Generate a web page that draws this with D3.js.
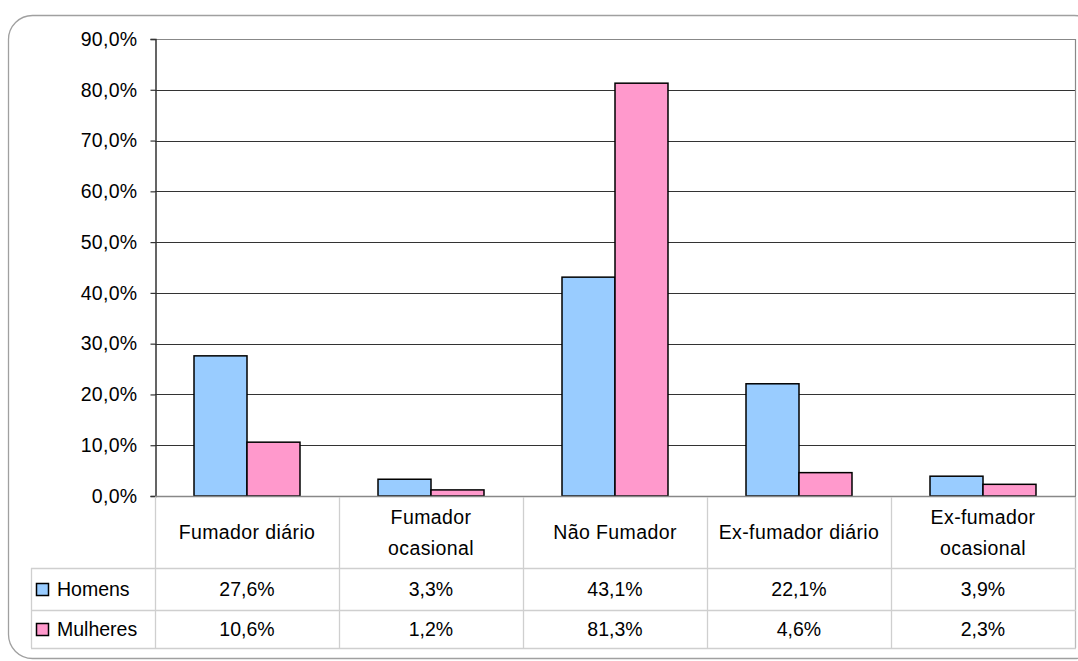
<!DOCTYPE html>
<html>
<head>
<meta charset="utf-8">
<script src="https://cdn.jsdelivr.net/npm/d3@7"></script>
<style>
  body { margin: 0; background: #fff; }
  text { font-family: "Liberation Sans", Arial, sans-serif; fill: #000; }
</style>
</head>
<body>
<div id="chart"></div>
<script>
// Data
const categories = [
  ['Fumador diário'],
  ['Fumador', 'ocasional'],
  ['Não Fumador'],
  ['Ex-fumador diário'],
  ['Ex-fumador', 'ocasional']
];
const seriesNames = ['Homens', 'Mulheres'];
const homens = [0.276, 0.033, 0.431, 0.221, 0.039];
const mulheres = [0.106, 0.012, 0.813, 0.046, 0.023];
const yTicks = [0, 0.1, 0.2, 0.3, 0.4, 0.5, 0.6, 0.7, 0.8, 0.9];
const colors = ['#99ccff', '#ff99cc'];

const width = 1078;
const height = 661;
const plot = { left: 155, right: 1075, top: 39, bottom: 496 };
const tableLeft = 31;
const rowCat = 568, rowH = 610, rowM = 648;
const fontSize = '19.5px';

const fmt = v => d3.format('.1f')(v * 100).replace('.', ',') + '%';

const svg = d3.select('#chart')
  .append('svg')
  .attr('width', width)
  .attr('height', height);

// Outer frame with rounded corners
svg.append('rect')
  .attr('x', 8.5).attr('y', 15.5)
  .attr('width', 1090).attr('height', 643)
  .attr('rx', 24).attr('ry', 24)
  .attr('fill', 'none')
  .attr('stroke', '#a0a0a0')
  .attr('stroke-width', 1.3);

// Scales
const keys = categories.map((c, i) => i);
const x = d3.scaleBand()
  .domain(keys)
  .range([plot.left, plot.right])
  .padding(0);

const x1 = d3.scaleBand()
  .domain(seriesNames)
  .range([0, x.bandwidth()])
  .paddingInner(0)
  .paddingOuter(0.736);

const y = d3.scaleLinear()
  .domain([0, 0.9])
  .range([plot.bottom, plot.top]);

// Gridlines
svg.append('g')
  .selectAll('line')
  .data(yTicks.slice(1))
  .join('line')
  .attr('x1', plot.left).attr('x2', plot.right)
  .attr('y1', d => Math.round(y(d)) + 0.5)
  .attr('y2', d => Math.round(y(d)) + 0.5)
  .attr('stroke', d => d === 0.9 ? '#888' : '#333')
  .attr('stroke-width', 1.2);

// Right border of plot area
svg.append('line')
  .attr('x1', plot.right + 0.5).attr('x2', plot.right + 0.5)
  .attr('y1', plot.top).attr('y2', plot.bottom)
  .attr('stroke', '#888').attr('stroke-width', 1.2);

// Y axis
const yAxis = svg.append('g')
  .attr('transform', `translate(${plot.left + 0.5},0)`)
  .call(d3.axisLeft(y).tickValues(yTicks).tickSize(5).tickPadding(13).tickFormat(fmt));
yAxis.select('.domain').attr('stroke', '#333').attr('stroke-width', 1.5);
yAxis.selectAll('.tick line').attr('stroke', '#333').attr('stroke-width', 1.2);
yAxis.selectAll('.tick text')
  .style('font-family', '"Liberation Sans", Arial, sans-serif')
  .style('font-size', fontSize)
  .style('letter-spacing', '0.3px')
  .attr('fill', '#000');

// Bars
const series = [homens, mulheres];
const groups = svg.append('g')
  .selectAll('g')
  .data(seriesNames)
  .join('g');

groups.selectAll('rect')
  .data((name, si) => series[si].map((v, i) => ({ i, v, name, si })))
  .join('rect')
  .attr('x', d => x(d.i) + x1(d.name))
  .attr('y', d => y(d.v))
  .attr('width', x1.bandwidth())
  .attr('height', d => y(0) - y(d.v))
  .attr('fill', d => colors[d.si])
  .attr('stroke', '#000')
  .attr('stroke-width', 1.5);

// Baseline
svg.append('line')
  .attr('x1', plot.left).attr('x2', plot.right + 1)
  .attr('y1', plot.bottom + 0.5).attr('y2', plot.bottom + 0.5)
  .attr('stroke', '#888').attr('stroke-width', 1.5);

// Data table
const tbl = svg.append('g');
const gridColor = '#cfcfcf';

// vertical separators
tbl.selectAll('.vsep')
  .data(keys.concat([keys.length]))
  .join('line')
  .attr('x1', d => (d < keys.length ? x(d) : plot.right) + 0.5)
  .attr('x2', d => (d < keys.length ? x(d) : plot.right) + 0.5)
  .attr('y1', plot.bottom + 1)
  .attr('y2', rowM)
  .attr('stroke', d => d === keys.length ? '#bbb' : gridColor)
  .attr('stroke-width', 1.3);

// left edge of legend column
tbl.append('line')
  .attr('x1', tableLeft + 0.5).attr('x2', tableLeft + 0.5)
  .attr('y1', rowCat).attr('y2', rowM)
  .attr('stroke', gridColor).attr('stroke-width', 1.3);

// horizontal lines
[rowCat, rowH, rowM].forEach(yy => {
  tbl.append('line')
    .attr('x1', tableLeft).attr('x2', plot.right + 1)
    .attr('y1', yy + 0.5).attr('y2', yy + 0.5)
    .attr('stroke', gridColor).attr('stroke-width', 1.3);
});

// category labels
tbl.selectAll('.cat')
  .data(categories)
  .join('text')
  .attr('text-anchor', 'middle')
  .style('font-size', fontSize)
  .style('letter-spacing', '0.4px')
  .each(function(lines, i) {
    const cx = x(i) + x.bandwidth() / 2;
    const mid = (plot.bottom + rowCat) / 2;
    const lh = 31;
    lines.forEach((ln, j) => {
      d3.select(this).append('tspan')
        .attr('x', cx)
        .attr('y', mid + (j - (lines.length - 1) / 2) * lh + 7)
        .text(ln);
    });
  });

// value rows
const rowMids = [(rowCat + rowH) / 2, (rowH + rowM) / 2];
series.forEach((vals, si) => {
  tbl.selectAll('.val' + si)
    .data(vals)
    .join('text')
    .attr('x', (d, i) => x(i) + x.bandwidth() / 2)
    .attr('y', rowMids[si] + 7)
    .attr('text-anchor', 'middle')
    .style('font-size', fontSize)
    .text(fmt);

  // legend key
  tbl.append('rect')
    .attr('x', 36.5).attr('y', rowMids[si] - 5.5)
    .attr('width', 12).attr('height', 12)
    .attr('fill', colors[si])
    .attr('stroke', '#000').attr('stroke-width', 1.5);
  tbl.append('text')
    .attr('x', 57)
    .attr('y', rowMids[si] + 7)
    .style('font-size', fontSize)
    .text(seriesNames[si]);
});
</script>
</body>
</html>
